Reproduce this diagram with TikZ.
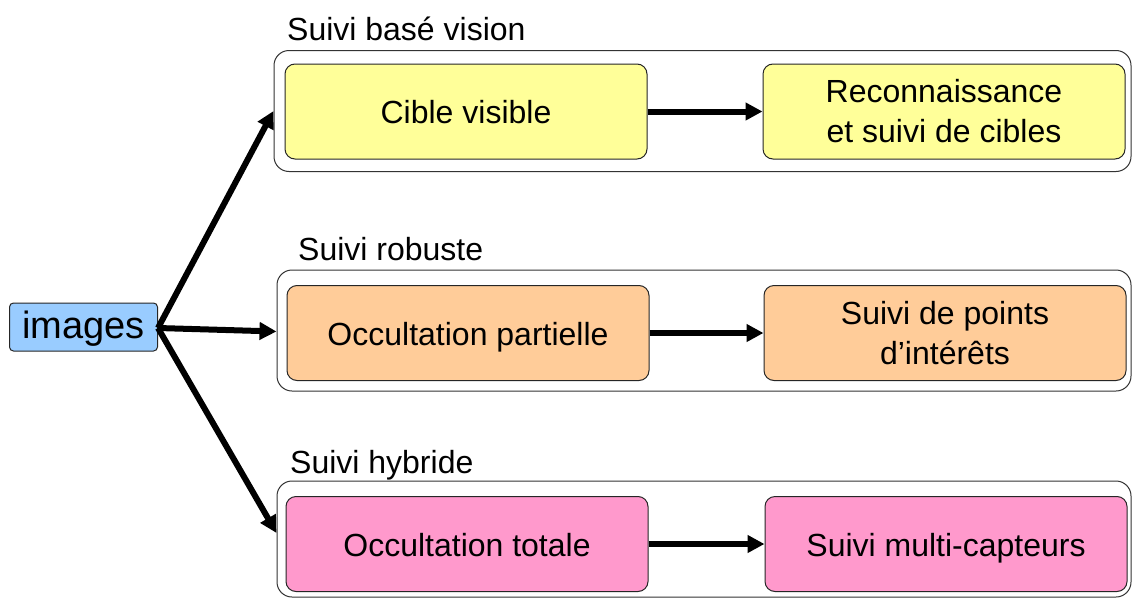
\documentclass[tikz,border=0pt]{standalone}
\usepackage{fontspec}
\setmainfont{Liberation Sans}
\usetikzlibrary{arrows.meta}
\definecolor{cyel}{HTML}{FFFF99}
\definecolor{cora}{HTML}{FFCC99}
\definecolor{cpink}{HTML}{FF99CC}
\definecolor{cblue}{HTML}{99CCFF}
\begin{document}
\begin{tikzpicture}[x=1pt,y=-1pt,
  txt/.style={font=\fontsize{32}{40}\selectfont},
  inbox/.style={draw=black!85, line width=1pt, rounded corners=10pt, minimum width=362pt, minimum height=95pt, inner sep=0pt, align=center, txt},
  oneline/.style={text height=26pt, text depth=2pt},
  group/.style={draw=black!80, line width=1pt, rounded corners=15pt, inner sep=0pt},
  lab/.style={anchor=base west, inner sep=0pt, txt},
  arr/.style={line width=6pt, -{Triangle[length=17pt,width=17pt]}, shorten >=0pt}
]
\useasboundingbox (0,0) rectangle (1132,597);
\clip (0,0) rectangle (1132,597);
\fill[white] (0,0) rectangle (1132,597);

% groups
\node[group, minimum width=857pt, minimum height=121pt] (g1) at (702.5,111) {};
\node[group, minimum width=854pt, minimum height=121pt] (g2) at (704,330.5) {};
\node[group, minimum width=854pt, minimum height=116pt] (g3) at (704,539) {};

\node[lab] (l1) at (287,40) {Suivi basé vision};
\node[lab] (l2) at (298,260) {Suivi robuste};
\node[lab] (l3) at (290,473) {Suivi hybride};

% inner boxes
\node[inbox, oneline, fill=cyel] (a1) at (466,111.5) {Cible visible};
\node[inbox, fill=cyel] (a2) at (944,111.5) {Reconnaissance\\et suivi de cibles};
\node[inbox, oneline, fill=cora] (b1) at (468,333) {Occultation partielle};
\node[inbox, fill=cora] (b2) at (945,333) {Suivi de points\\d’intérêts};
\node[inbox, oneline, fill=cpink] (c1) at (467,544) {Occultation totale};
\node[inbox, oneline, fill=cpink] (c2) at (946,544) {Suivi multi-capteurs};

% images
\node[draw=black!85, line width=1pt, rounded corners=4pt, fill=cblue, minimum width=148pt, minimum height=48pt, inner sep=0pt, text height=30pt, text depth=8pt, font=\fontsize{38}{44}\selectfont] (img) at (83.5,327) {images};

\coordinate (s) at (158,328);
\draw[arr] (s) -- (g1.west);
\draw[arr] (s) -- ([yshift=-1pt]g2.west);
\draw[arr] (s) -- ([yshift=6pt]g3.west);

\draw[arr] (a1) -- (a2);
\draw[arr] (b1) -- (b2);
\draw[arr] (c1) -- (c2);
\end{tikzpicture}
\end{document}
